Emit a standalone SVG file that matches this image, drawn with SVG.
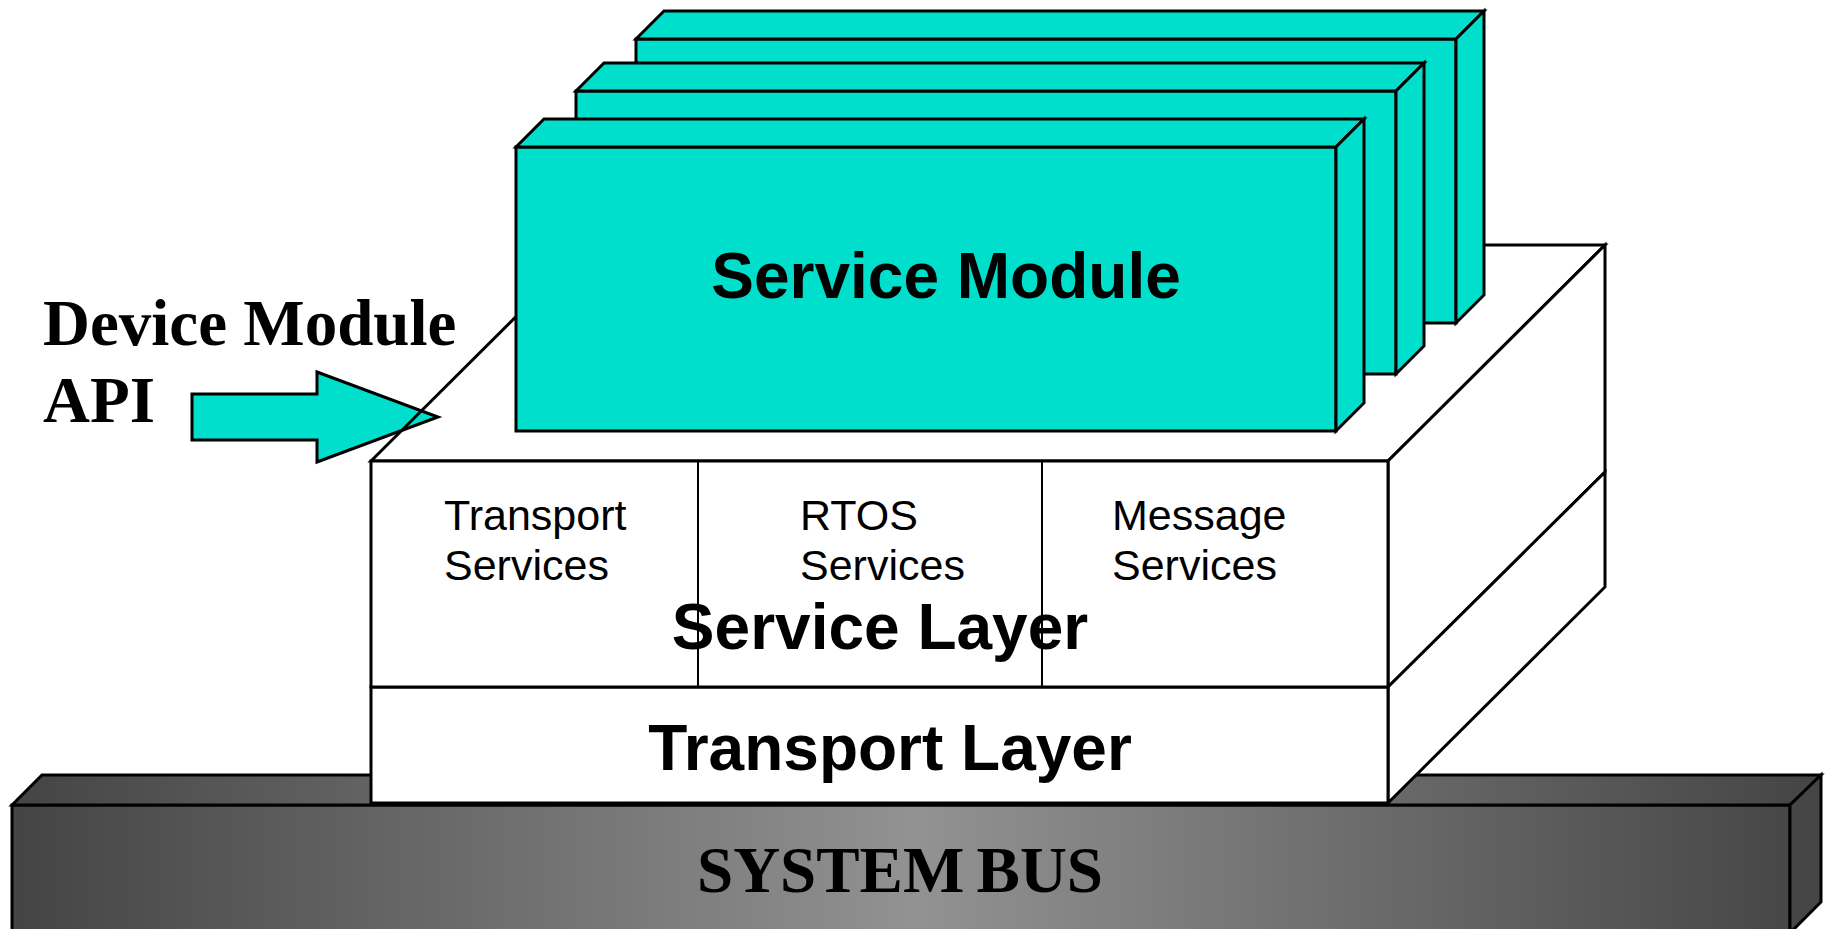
<svg xmlns="http://www.w3.org/2000/svg" width="1829" height="929" viewBox="0 0 1829 929">
  <defs>
    <linearGradient id="busGrad" gradientUnits="userSpaceOnUse" x1="12" y1="0" x2="1821" y2="0">
      <stop offset="0" stop-color="#444444"/>
      <stop offset="0.5" stop-color="#929292"/>
      <stop offset="1" stop-color="#444444"/>
    </linearGradient>
  </defs>
  <style>
    .edge { stroke: #000; stroke-width: 3; stroke-linejoin: miter; }
    .thin { stroke: #000; stroke-width: 2; fill: none; }
    .teal { fill: #00dfcc; }
    .white { fill: #ffffff; }
    .bus { fill: url(#busGrad); }
    .serif { font-family: "Liberation Serif", "Times New Roman", serif; font-weight: bold; fill: #000; }
    .sans { font-family: "Liberation Sans", Arial, sans-serif; fill: #000; }
    .big { font-size: 64px; font-weight: bold; }
    .small { font-size: 43px; }
  </style>
  <rect width="1829" height="929" fill="#ffffff"/>

  <!-- system bus slab -->
  <g id="system-bus">
    <rect class="bus edge" x="12" y="805" width="1778" height="130"/>
    <polygon class="bus edge" points="12,805 42,775 1821,775 1790,805"/>
    <polygon class="edge" fill="#464646" points="1790,805 1821,775 1821,902 1790,933"/>
    <text class="serif" x="697" y="892" font-size="65" word-spacing="-4">SYSTEM BUS</text>
  </g>

  <!-- API arrow -->
  <g id="api-arrow">
    <polygon class="teal edge" points="192,394 317,394 317,372 438,417 317,462 317,440 192,440"/>
  </g>

  <!-- service + transport layer block -->
  <g id="layer-block">
    <polygon class="edge" fill="none" points="371,461 588,245 1605,245 1388,461"/>
    <polygon class="white edge" points="1388,461 1605,245 1605,472 1388,687"/>
    <polygon class="white edge" points="1388,687 1605,472 1605,587 1388,803"/>
  </g>

  <g id="transport-layer">
    <rect class="white edge" x="371" y="687" width="1017" height="116"/>
    <text class="sans big" x="890" y="770" text-anchor="middle">Transport Layer</text>
  </g>

  <g id="service-layer">
    <rect class="white edge" x="371" y="461" width="1017" height="226"/>
    <text class="sans big" x="880" y="649" text-anchor="middle">Service Layer</text>
    <line class="thin" x1="698" y1="461" x2="698" y2="687"/>
    <line class="thin" x1="1042" y1="461" x2="1042" y2="687"/>
    <text class="sans small" x="444" y="530">Transport</text>
    <text class="sans small" x="444" y="580">Services</text>
    <text class="sans small" x="800" y="530">RTOS</text>
    <text class="sans small" x="800" y="580">Services</text>
    <text class="sans small" x="1112" y="530">Message</text>
    <text class="sans small" x="1112" y="580">Services</text>
  </g>

  <!-- stacked service modules, back to front -->
  <g id="service-module-3">
    <rect class="teal edge" x="636" y="39" width="820" height="284"/>
    <polygon class="teal edge" points="636,39 664,11 1484,11 1456,39"/>
    <polygon class="teal edge" points="1456,39 1484,11 1484,295 1456,323"/>
  </g>
  <g id="service-module-2">
    <rect class="teal edge" x="576" y="91" width="820" height="283"/>
    <polygon class="teal edge" points="576,91 604,63 1424,63 1396,91"/>
    <polygon class="teal edge" points="1396,91 1424,63 1424,346 1396,374"/>
  </g>
  <g id="service-module-1">
    <rect class="teal edge" x="516" y="147" width="820" height="284"/>
    <polygon class="teal edge" points="516,147 544,119 1364,119 1336,147"/>
    <polygon class="teal edge" points="1336,147 1364,119 1364,403 1336,431"/>
    <text class="sans big" x="946" y="298" text-anchor="middle">Service Module</text>
  </g>

  <g id="api-label">
    <text class="serif" x="43" y="345" font-size="65">Device Module</text>
    <text class="serif" x="43" y="422" font-size="65">API</text>
  </g>
</svg>
